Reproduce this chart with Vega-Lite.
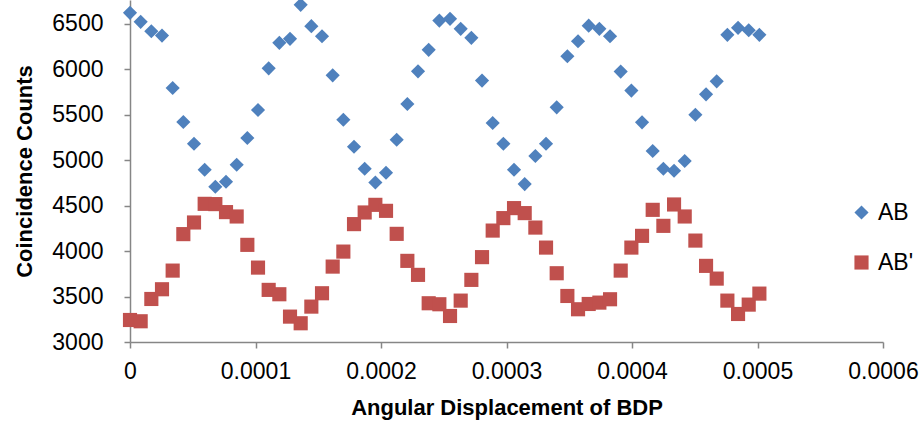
{
  "$schema": "https://vega.github.io/schema/vega-lite/v6.json",
  "autosize": {"type": "none"},
  "width": 753,
  "height": 342,
  "padding": {"left": 130, "top": 0, "right": 41, "bottom": 89},
  "background": "white",
  "config": {
    "view": {"stroke": null},
    "font": "Liberation Sans",
    "axis": {"grid": false, "domainColor": "#868686", "domainWidth": 1.5, "tickColor": "#868686", "tickWidth": 1.5, "tickSize": 6, "labelFont": "Liberation Sans", "labelFontSize": 23, "labelColor": "#000000", "titleFont": "Liberation Sans", "titleFontSize": 22, "titleFontWeight": "bold", "titleColor": "#000000"}
  },
  "data": {"values": [
    {"x": 0, "AB": 6619, "ABp": 3242},
    {"x": 0.0000085, "AB": 6520, "ABp": 3228},
    {"x": 0.000017, "AB": 6416, "ABp": 3473},
    {"x": 0.0000255, "AB": 6369, "ABp": 3580},
    {"x": 0.000034, "AB": 5793, "ABp": 3785},
    {"x": 0.0000425, "AB": 5419, "ABp": 4186},
    {"x": 0.000051, "AB": 5180, "ABp": 4314},
    {"x": 0.0000595, "AB": 4894, "ABp": 4519},
    {"x": 0.000068, "AB": 4707, "ABp": 4516},
    {"x": 0.0000765, "AB": 4762, "ABp": 4428},
    {"x": 0.000085, "AB": 4949, "ABp": 4380},
    {"x": 0.0000935, "AB": 5243, "ABp": 4068},
    {"x": 0.000102, "AB": 5551, "ABp": 3818},
    {"x": 0.0001105, "AB": 6009, "ABp": 3573},
    {"x": 0.000119, "AB": 6289, "ABp": 3525},
    {"x": 0.0001275, "AB": 6333, "ABp": 3279},
    {"x": 0.000136, "AB": 6707, "ABp": 3206},
    {"x": 0.0001445, "AB": 6472, "ABp": 3389},
    {"x": 0.000153, "AB": 6361, "ABp": 3536},
    {"x": 0.0001615, "AB": 5932, "ABp": 3829},
    {"x": 0.00017, "AB": 5444, "ABp": 3994},
    {"x": 0.0001785, "AB": 5147, "ABp": 4296},
    {"x": 0.000187, "AB": 4905, "ABp": 4424},
    {"x": 0.0001955, "AB": 4754, "ABp": 4508},
    {"x": 0.000204, "AB": 4861, "ABp": 4442},
    {"x": 0.0002125, "AB": 5224, "ABp": 4189},
    {"x": 0.000221, "AB": 5617, "ABp": 3892},
    {"x": 0.0002295, "AB": 5976, "ABp": 3738},
    {"x": 0.000238, "AB": 6212, "ABp": 3426},
    {"x": 0.0002465, "AB": 6534, "ABp": 3415},
    {"x": 0.000255, "AB": 6553, "ABp": 3286},
    {"x": 0.0002635, "AB": 6443, "ABp": 3455},
    {"x": 0.000272, "AB": 6344, "ABp": 3683},
    {"x": 0.0002805, "AB": 5874, "ABp": 3933},
    {"x": 0.000289, "AB": 5408, "ABp": 4225},
    {"x": 0.0002975, "AB": 5180, "ABp": 4362},
    {"x": 0.000306, "AB": 4894, "ABp": 4472},
    {"x": 0.0003145, "AB": 4736, "ABp": 4417},
    {"x": 0.000323, "AB": 5045, "ABp": 4258},
    {"x": 0.0003315, "AB": 5180, "ABp": 4038},
    {"x": 0.00034, "AB": 5580, "ABp": 3756},
    {"x": 0.0003485, "AB": 6141, "ABp": 3506},
    {"x": 0.000357, "AB": 6306, "ABp": 3360},
    {"x": 0.0003655, "AB": 6478, "ABp": 3418},
    {"x": 0.000374, "AB": 6443, "ABp": 3433},
    {"x": 0.0003825, "AB": 6361, "ABp": 3470},
    {"x": 0.000391, "AB": 5973, "ABp": 3785},
    {"x": 0.0003995, "AB": 5764, "ABp": 4038},
    {"x": 0.000408, "AB": 5415, "ABp": 4167},
    {"x": 0.0004165, "AB": 5100, "ABp": 4453},
    {"x": 0.000425, "AB": 4905, "ABp": 4277},
    {"x": 0.0004335, "AB": 4883, "ABp": 4512},
    {"x": 0.000442, "AB": 4990, "ABp": 4380},
    {"x": 0.0004505, "AB": 5499, "ABp": 4115},
    {"x": 0.000459, "AB": 5723, "ABp": 3837},
    {"x": 0.0004675, "AB": 5866, "ABp": 3697},
    {"x": 0.000476, "AB": 6377, "ABp": 3455},
    {"x": 0.0004845, "AB": 6454, "ABp": 3308},
    {"x": 0.000493, "AB": 6428, "ABp": 3411},
    {"x": 0.0005015, "AB": 6377, "ABp": 3532}
  ]},
  "transform": [{"fold": ["AB", "ABp"], "as": ["series", "count"]}],
  "mark": {"type": "point", "filled": true, "opacity": 1, "size": 200},
  "encoding": {
    "x": {
      "field": "x", "type": "quantitative",
      "scale": {"domain": [0, 0.0006], "nice": false, "zero": false},
      "axis": {"values": [0, 0.0001, 0.0002, 0.0003, 0.0004, 0.0005, 0.0006], "labelFlush": false, "labelExpr": "datum.value == 0 ? '0' : format(datum.value, '.4f')", "labelPadding": 12, "title": "Angular Displacement of BDP", "titlePadding": 14}
    },
    "y": {
      "field": "count", "type": "quantitative",
      "scale": {"domain": [3000, 6760], "nice": false, "zero": false},
      "axis": {"values": [3000, 3500, 4000, 4500, 5000, 5500, 6000, 6500], "format": "d", "labelFlush": false, "labelPadding": 21, "title": "Coincidence Counts", "titlePadding": 15}
    },
    "color": {
      "field": "series", "type": "nominal",
      "scale": {"domain": ["AB", "ABp"], "range": ["#4F81BD", "#C0504D"]},
      "legend": {"title": null, "orient": "none", "legendX": 720, "legendY": 201, "labelFontSize": 23, "labelFont": "Liberation Sans", "labelColor": "#000000", "symbolSize": 200, "rowPadding": 26, "labelOffset": 5, "labelExpr": "datum.label == 'ABp' ? \"AB'\" : datum.label", "symbolOpacity": 1}
    },
    "shape": {
      "field": "series", "type": "nominal",
      "scale": {"domain": ["AB", "ABp"], "range": ["diamond", "square"]},
      "legend": {"title": null, "orient": "none", "legendX": 720, "legendY": 201, "labelFontSize": 23, "labelFont": "Liberation Sans", "labelColor": "#000000", "symbolSize": 200, "rowPadding": 26, "labelOffset": 5, "labelExpr": "datum.label == 'ABp' ? \"AB'\" : datum.label", "symbolOpacity": 1}
    }
  }
}
